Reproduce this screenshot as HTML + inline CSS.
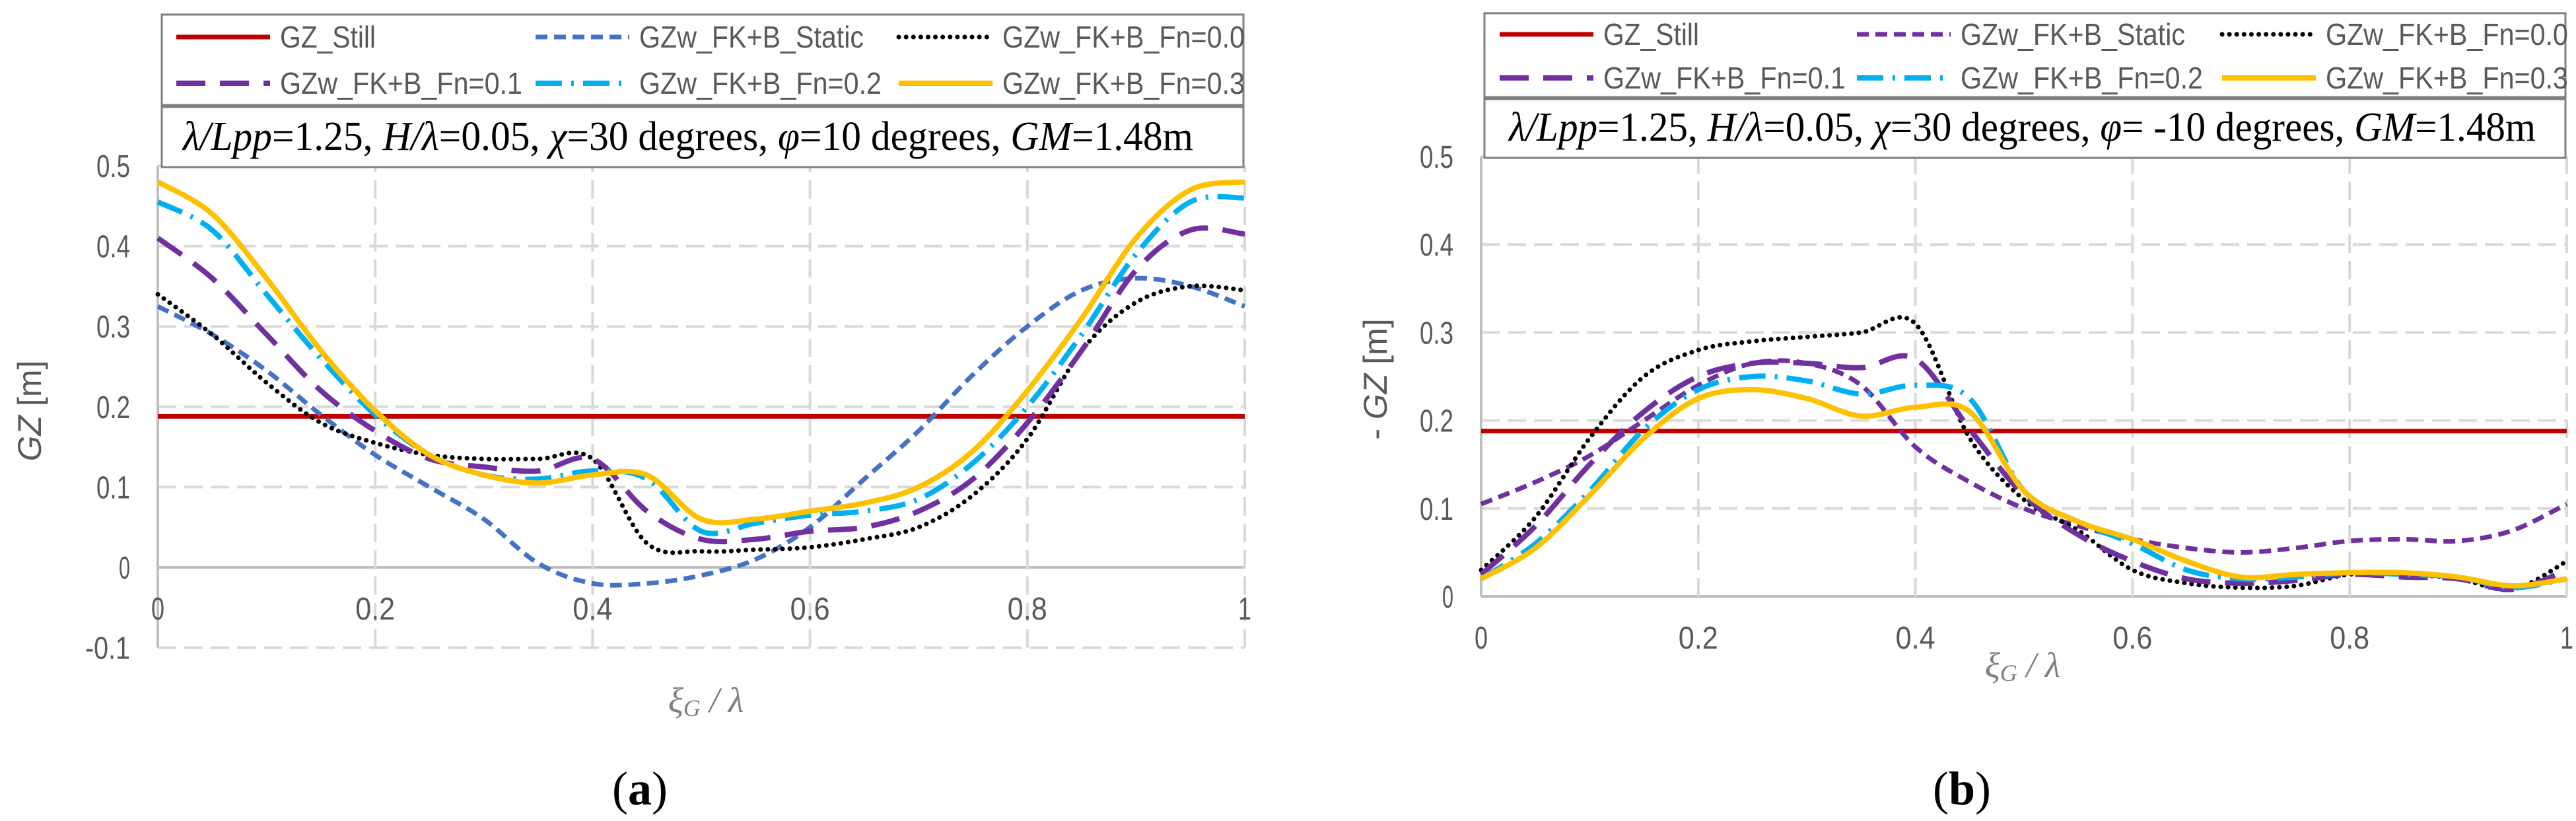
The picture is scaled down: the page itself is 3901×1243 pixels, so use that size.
<!DOCTYPE html>
<html><head><meta charset="utf-8">
<style>
html,body{margin:0;padding:0;background:#fff;}
svg{display:block;}
text{font-family:"Liberation Sans Narrow","Liberation Sans",sans-serif;}
.serif{font-family:"Liberation Serif",serif;}
</style></head>
<body>
<svg id="chart" width="3901" height="1243" viewBox="0 0 3901 1243" xmlns="http://www.w3.org/2000/svg"></svg>
<script>
const xs = [0,0.05,0.1,0.15,0.2,0.25,0.3,0.35,0.4,0.45,0.5,0.55,0.6,0.65,0.7,0.75,0.8,0.85,0.9,0.95,1];
const stillA = 0.188;
const staticA = [0.325,0.29,0.245,0.19,0.14,0.10,0.06,0.005,-0.02,-0.02,-0.01,0.01,0.05,0.11,0.17,0.24,0.30,0.345,0.36,0.35,0.325];
const fn0A = [0.34,0.29,0.23,0.18,0.155,0.14,0.135,0.135,0.135,0.03,0.02,0.022,0.025,0.035,0.05,0.09,0.16,0.27,0.33,0.35,0.345];
const fn1A = [0.41,0.36,0.29,0.22,0.17,0.135,0.125,0.12,0.135,0.07,0.035,0.035,0.045,0.05,0.07,0.11,0.18,0.27,0.37,0.42,0.415];
const fn2A = [0.455,0.42,0.34,0.26,0.19,0.14,0.115,0.11,0.12,0.11,0.045,0.055,0.065,0.07,0.085,0.13,0.2,0.29,0.39,0.455,0.46];
const fn3A = [0.48,0.44,0.36,0.27,0.195,0.14,0.115,0.105,0.115,0.115,0.06,0.06,0.07,0.08,0.10,0.145,0.22,0.31,0.41,0.47,0.48];
const stillB = 0.188;
const staticB = [0.105,0.13,0.16,0.20,0.24,0.265,0.265,0.24,0.17,0.13,0.10,0.08,0.065,0.055,0.05,0.055,0.063,0.065,0.063,0.075,0.105];
const fn0B = [0.03,0.09,0.18,0.25,0.28,0.29,0.295,0.30,0.31,0.18,0.11,0.075,0.03,0.015,0.01,0.012,0.025,0.025,0.02,0.008,0.04];
const fn1B = [0.025,0.08,0.15,0.21,0.25,0.265,0.265,0.26,0.27,0.19,0.115,0.07,0.04,0.02,0.015,0.018,0.025,0.022,0.02,0.008,0.03];
const fn2B = [0.02,0.06,0.12,0.19,0.235,0.25,0.245,0.23,0.24,0.225,0.12,0.085,0.06,0.03,0.02,0.022,0.027,0.025,0.022,0.01,0.02];
const fn3B = [0.02,0.055,0.115,0.18,0.225,0.235,0.225,0.205,0.215,0.21,0.12,0.085,0.065,0.04,0.022,0.025,0.027,0.027,0.022,0.012,0.02];
const xTicks = ["0","0.2","0.4","0.6","0.8","1"];
const yTicksA = ["-0.1","0","0.1","0.2","0.3","0.4","0.5"];
const yTicksB = ["0","0.1","0.2","0.3","0.4","0.5"];
const legendLabels = ["GZ_Still","GZw_FK+B_Static","GZw_FK+B_Fn=0.0","GZw_FK+B_Fn=0.1","GZw_FK+B_Fn=0.2","GZw_FK+B_Fn=0.3"];
const legendLens = [145,340,367,367,367,367];

const NS="http://www.w3.org/2000/svg";
const svg=document.getElementById('chart');
function el(tag,attrs,parent,txt){const e=document.createElementNS(NS,tag);for(const k in attrs)e.setAttribute(k,attrs[k]);if(txt!==undefined)e.textContent=txt;(parent||svg).appendChild(e);return e;}
function smooth(pts){let d=`M${pts[0][0]},${pts[0][1]}`;for(let i=0;i<pts.length-1;i++){const p0=pts[Math.max(0,i-1)],p1=pts[i],p2=pts[i+1],p3=pts[Math.min(pts.length-1,i+2)];const c1=[p1[0]+(p2[0]-p0[0])/6,p1[1]+(p2[1]-p0[1])/6],c2=[p2[0]-(p3[0]-p1[0])/6,p2[1]-(p3[1]-p1[1])/6];d+=` C${c1[0]},${c1[1]} ${c2[0]},${c2[1]} ${p2[0]},${p2[1]}`;}return d;}

function panel(cfg){
  const g=el('g',{});
  
  
  const X=v=>cfg.x0+(cfg.x1-cfg.x0)*v;
  const Y=v=>cfg.y0+(cfg.yTop-cfg.y0)*(v-0)/(cfg.ymax);
  const ymin=parseFloat(cfg.yTicks[0]);
  cfg.yTicks.forEach(t=>{const v=parseFloat(t);const y=Y(v);
    const gl=el('line',{x1:cfg.x0,x2:cfg.x1,y1:y,y2:y,stroke:v===0?'#bfbfbf':'#d9d9d9','stroke-width':4,'stroke-dasharray':v===0?'':'28,12'},g);
    
    
    const tl=el('text',{x:cfg.x0-42,y:y+17,'text-anchor':'end','font-size':48,fill:'#595959',textLength:t.length*17,lengthAdjust:'spacingAndGlyphs'},g,t);
    
    
  });
  xTicks.forEach(t=>{const v=parseFloat(t);const x=X(v);
    const gl=el('line',{x1:x,x2:x,y1:Y(ymin),y2:cfg.yTop,stroke:v===0?'#bfbfbf':'#d9d9d9','stroke-width':4,'stroke-dasharray':v===0?'':'28,12'},g);
    
    
    const tl=el('text',{x:x,y:cfg.xTickY,'text-anchor':'middle','font-size':48,fill:'#595959',textLength:Math.max(t.length*20,14),lengthAdjust:'spacingAndGlyphs'},g,t);
    
    
  });
  const st=el('line',{x1:cfg.x0,x2:cfg.x1,y1:Y(cfg.still),y2:Y(cfg.still),stroke:'#c00000','stroke-width':7},g);
  
  
  cfg.series.forEach(s=>{
    const p=el('path',{d:smooth(xs.map((v,i)=>[X(v),Y(s.data[i])])),fill:'none',stroke:s.color,'stroke-width':s.w,'stroke-dasharray':s.dash,'stroke-linecap':s.cap||'butt'},g);
    
    
  });
  const lg=el('g',{},g);
  
  
  el('rect',{x:cfg.lx0,y:cfg.ly0,width:cfg.lx1-cfg.lx0,height:cfg.ly1-cfg.ly0,fill:'#fff',stroke:'#7f7f7f','stroke-width':3},lg);
  const styles=[{c:'#c00000',w:7,d:''},cfg.series[0],cfg.series[1],cfg.series[2],cfg.series[3],cfg.series[4]];
  styles.forEach((s,i)=>{const col=i%3,row=Math.floor(i/3);
    const lx=cfg.cols[col],ly=cfg.rows[row];
    const e=el('g',{},lg);
    
    
    el('line',{x1:lx,x2:lx+142,y1:ly,y2:ly,stroke:s.c||s.color,'stroke-width':s.w,'stroke-dasharray':s.d!==undefined?s.d:s.dash,'stroke-linecap':s.cap||'butt'},e);
    el('text',{x:lx+157,y:ly+16,'font-size':46,fill:'#595959',textLength:legendLens[i],lengthAdjust:'spacingAndGlyphs'},e,legendLabels[i]);
  });
  const pb=el('g',{},g);
  
  
  el('rect',{x:cfg.lx0,y:cfg.ly1+3,width:cfg.lx1-cfg.lx0,height:cfg.pb1-cfg.ly1-3,fill:'#fff',stroke:'#7f7f7f','stroke-width':3},pb);
  const t=el('text',{x:cfg.ptx,y:cfg.pb1-26,'text-anchor':'start','font-size':62,fill:'#000',class:'serif',textLength:cfg.ptl,lengthAdjust:'spacingAndGlyphs'},pb);
  t.innerHTML=`<tspan font-style="italic">λ/Lpp</tspan>=1.25, <tspan font-style="italic">H/λ</tspan>=0.05, <tspan font-style="italic">χ</tspan>=30 degrees, <tspan font-style="italic">φ</tspan>=${cfg.phi} degrees, <tspan font-style="italic">GM</tspan>=1.48m`;
  const yt=el('text',{x:cfg.ytx,y:cfg.yty,'text-anchor':'middle','font-size':50,fill:'#595959',transform:`rotate(-90 ${cfg.ytx} ${cfg.yty})`},g);
  yt.innerHTML=cfg.ytitle;
  
  
  const xt=el('text',{x:cfg.xtx,y:cfg.xty,'text-anchor':'middle','font-size':54,fill:'#7f7f7f',class:'serif','font-style':'italic'},g);
  xt.innerHTML='ξ<tspan font-size="36" dy="6">G</tspan><tspan dy="-6"> / λ</tspan>';
  
  
  const cap=el('text',{x:cfg.capx,y:1218,'text-anchor':'middle','font-size':72,fill:'#000',class:'serif'},g);
  cap.innerHTML=`(<tspan font-weight="bold">${cfg.cap}</tspan>)`;
  
  
}

panel({name:'panel-a',x0:239,x1:1885,y0:859,yTop:251,ymax:0.5,yTicks:yTicksA,xTickY:938,still:stillA,
  series:[
   {name:'static-line',data:staticA,color:'#4472c4',w:7,dash:'18,10'},
   {name:'fn0-line',data:fn0A,color:'#000',w:7,dash:'0.1,11',cap:'round'},
   {name:'fn01-line',data:fn1A,color:'#7030a0',w:8,dash:'44,22'},
   {name:'fn02-line',data:fn2A,color:'#00b0f0',w:8,dash:'40,14,4,14'},
   {name:'fn03-line',data:fn3A,color:'#ffc000',w:8,dash:''}],
  lx0:245,lx1:1883,ly0:22,ly1:159,pb1:253,cols:[267,811,1361],rows:[56,126],phi:'10',ptx:277,ptl:1530,
  ytitle:'<tspan font-style="italic">GZ</tspan> [m]',ytx:62,yty:622,xtx:1069,xty:1078,capx:969,cap:'a'});

panel({name:'panel-b',x0:2243,x1:3887,y0:903,yTop:237,ymax:0.5,yTicks:yTicksB,xTickY:982,still:stillB,
  series:[
   {name:'static-line',data:staticB,color:'#7030a0',w:7,dash:'18,10'},
   {name:'fn0-line',data:fn0B,color:'#000',w:7,dash:'0.1,11',cap:'round'},
   {name:'fn01-line',data:fn1B,color:'#7030a0',w:8,dash:'44,22'},
   {name:'fn02-line',data:fn2B,color:'#00b0f0',w:8,dash:'40,14,4,14'},
   {name:'fn03-line',data:fn3B,color:'#ffc000',w:8,dash:''}],
  lx0:2248,lx1:3885,ly0:20,ly1:147,pb1:239,cols:[2271,2812,3365],rows:[52,118],phi:' -10',ptx:2285,ptl:1555,
  ytitle:'- <tspan font-style="italic">GZ</tspan> [m]',ytx:2100,yty:574,xtx:3063,xty:1025,capx:2971,cap:'b'});
</script>
</body></html>
